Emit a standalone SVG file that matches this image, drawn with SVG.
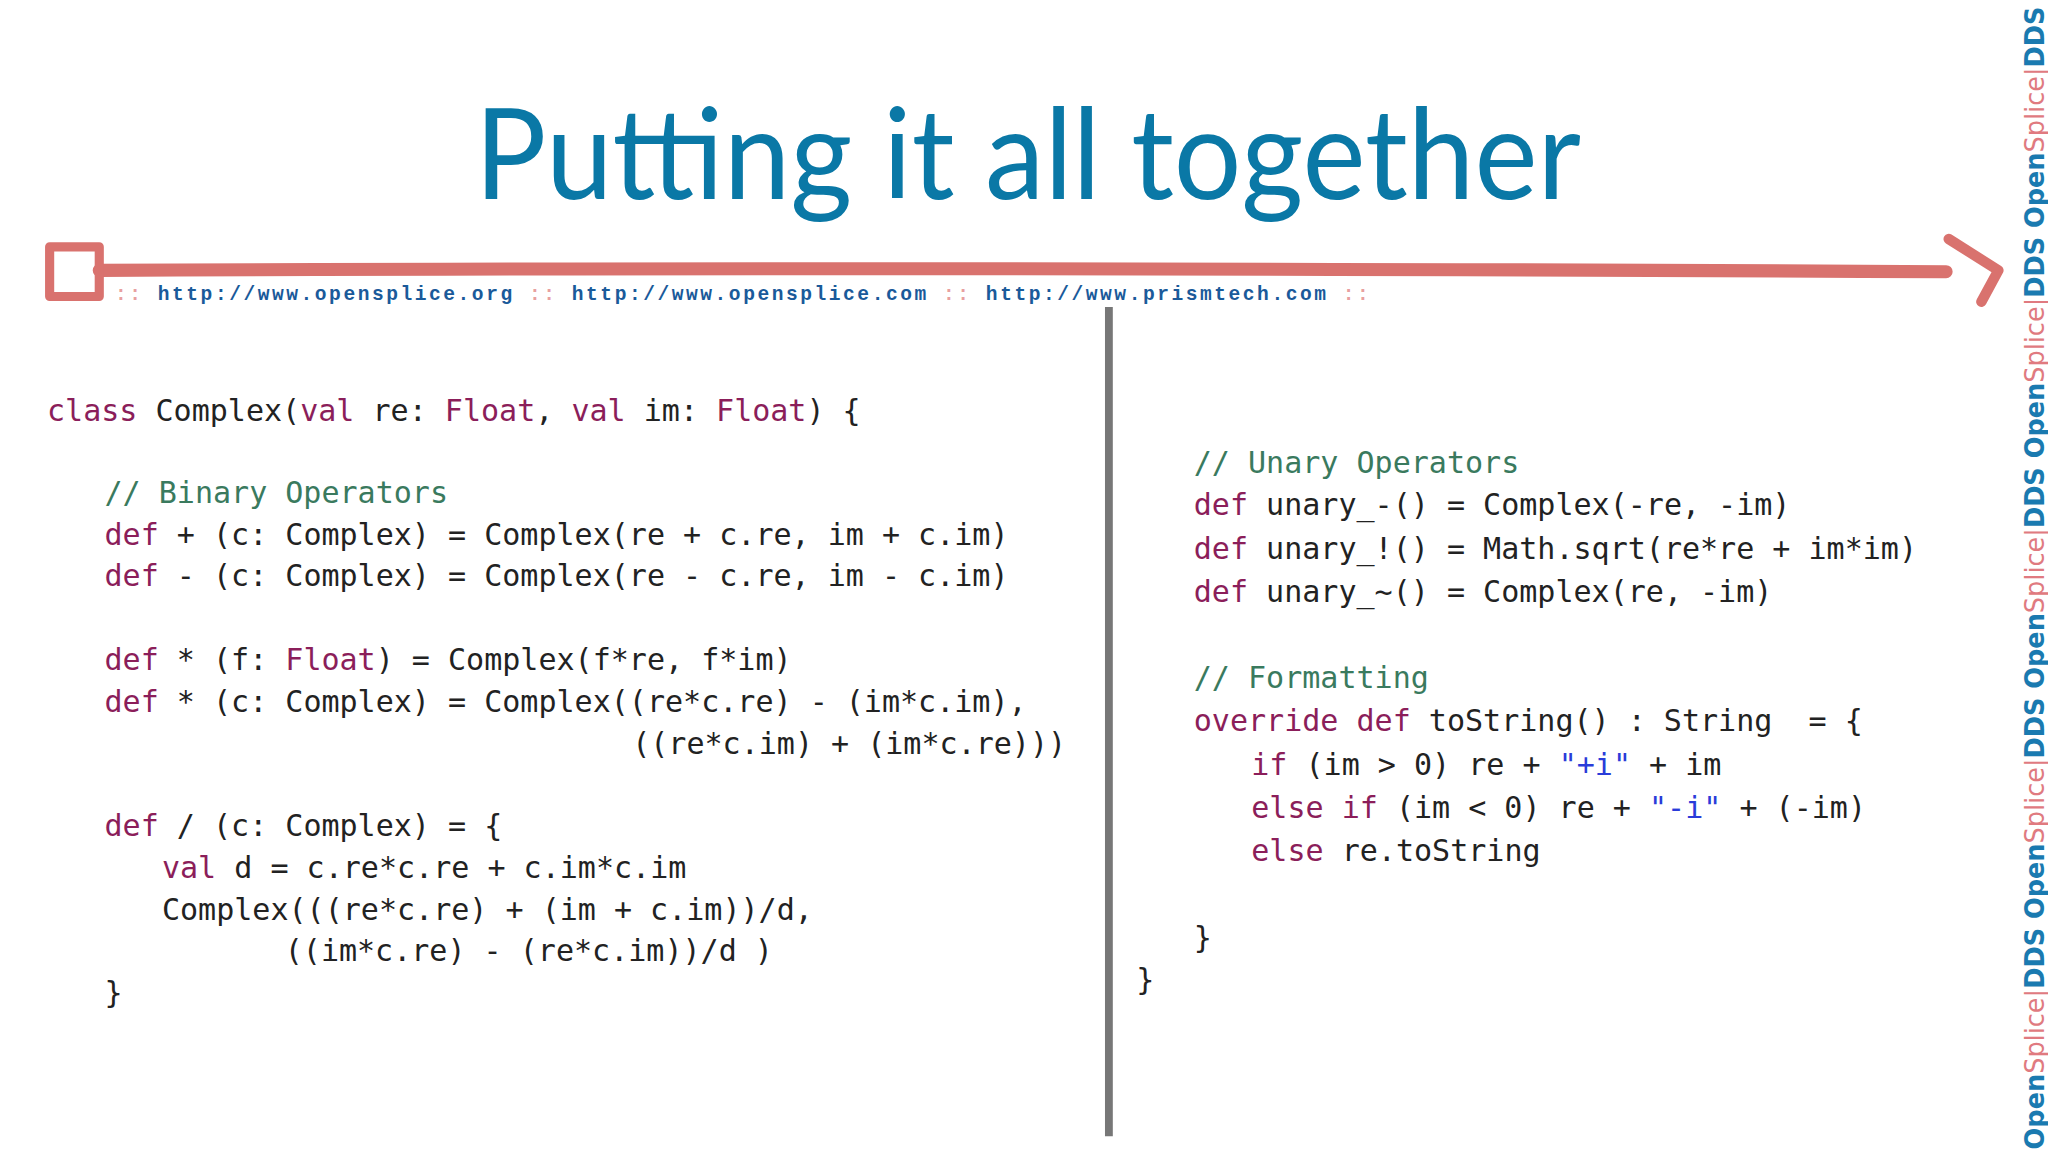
<svg xmlns="http://www.w3.org/2000/svg" width="2048" height="1152" viewBox="0 0 2048 1152">
<style>
.c{font-family:"DejaVu Sans Mono",monospace;font-size:23px;fill:#222;white-space:pre}
.k{fill:#8b1e5a}.m{fill:#3a7a5e}.s{fill:#2a3cd9}
.u{font-family:"Liberation Mono",monospace;font-size:15px;font-weight:bold;fill:#1a5a9a}
.p{fill:#e8a0a0}
.v{font-family:"DejaVu Sans",sans-serif;font-size:21px;font-weight:bold}
.b{fill:#1a7ab0}.r{fill:#e07a80;font-weight:normal}
</style>
<rect width="2048" height="1152" fill="#fff"/>
<g transform="scale(1.30612)">
<g id="title"><text x="787" y="152" text-anchor="middle" font-family="Lato,'Open Sans',sans-serif" font-size="96" fill="#0a78a6" textLength="847" lengthAdjust="spacingAndGlyphs">Putting it all together</text></g>
<g id="banner" fill="none" stroke="#d9726e" stroke-linecap="round" stroke-linejoin="round">
<path d="M76 207 Q700 204 1490 208" stroke-width="10"/>
<rect x="38" y="189" width="38" height="38" stroke-width="7"/>
<polyline points="1492,183 1530,207 1517,231" stroke-width="8"/>
</g>
<g id="urls"><text class="u" x="88" y="230" textLength="960" xml:space="preserve"><tspan class="p">:: </tspan>http://www.opensplice.org<tspan class="p"> :: </tspan>http://www.opensplice.com<tspan class="p"> :: </tspan>http://www.prismtech.com<tspan class="p"> ::</tspan></text></g>
<g id="divider"><line x1="849" y1="235" x2="849" y2="870" stroke="#777" stroke-width="6"/></g>
<g id="left" class="c" xml:space="preserve">
<text x="36" y="322"><tspan class="k">class</tspan> Complex(<tspan class="k">val</tspan> re: <tspan class="k">Float</tspan>, <tspan class="k">val</tspan> im: <tspan class="k">Float</tspan>) {</text>
<text x="80" y="385" class="m">// Binary Operators</text>
<text x="80" y="417"><tspan class="k">def</tspan> + (c: Complex) = Complex(re + c.re, im + c.im)</text>
<text x="80" y="449"><tspan class="k">def</tspan> - (c: Complex) = Complex(re - c.re, im - c.im)</text>
<text x="80" y="513"><tspan class="k">def</tspan> * (f: <tspan class="k">Float</tspan>) = Complex(f*re, f*im)</text>
<text x="80" y="545"><tspan class="k">def</tspan> * (c: Complex) = Complex((re*c.re) - (im*c.im),</text>
<text x="484" y="577">((re*c.im) + (im*c.re)))</text>
<text x="80" y="640"><tspan class="k">def</tspan> / (c: Complex) = {</text>
<text x="124" y="672"><tspan class="k">val</tspan> d = c.re*c.re + c.im*c.im</text>
<text x="124" y="704">Complex(((re*c.re) + (im + c.im))/d,</text>
<text x="218" y="736">((im*c.re) - (re*c.im))/d )</text>
<text x="80" y="768">}</text>
</g>
<g id="right" class="c" xml:space="preserve">
<text x="914" y="362" class="m">// Unary Operators</text>
<text x="914" y="394"><tspan class="k">def</tspan> unary_-() = Complex(-re, -im)</text>
<text x="914" y="428"><tspan class="k">def</tspan> unary_!() = Math.sqrt(re*re + im*im)</text>
<text x="914" y="461"><tspan class="k">def</tspan> unary_~() = Complex(re, -im)</text>
<text x="914" y="527" class="m">// Formatting</text>
<text x="914" y="560" xml:space="preserve"><tspan class="k">override def</tspan> toString() : String  = {</text>
<text x="958" y="593"><tspan class="k">if</tspan> (im &gt; 0) re + <tspan class="s">"+i"</tspan> + im</text>
<text x="958" y="626"><tspan class="k">else if</tspan> (im &lt; 0) re + <tspan class="s">"-i"</tspan> + (-im)</text>
<text x="958" y="659"><tspan class="k">else</tspan> re.toString</text>
<text x="914" y="726">}</text>
<text x="870" y="758">}</text>
</g>
<g id="side"><text class="v" transform="translate(1565,880) rotate(-90)" textLength="875" lengthAdjust="spacingAndGlyphs"><tspan class="b">Open</tspan><tspan class="r">Splice|</tspan><tspan class="b">DDS Open</tspan><tspan class="r">Splice|</tspan><tspan class="b">DDS Open</tspan><tspan class="r">Splice|</tspan><tspan class="b">DDS Open</tspan><tspan class="r">Splice|</tspan><tspan class="b">DDS Open</tspan><tspan class="r">Splice|</tspan><tspan class="b">DDS</tspan></text></g>
</g>
</svg>
